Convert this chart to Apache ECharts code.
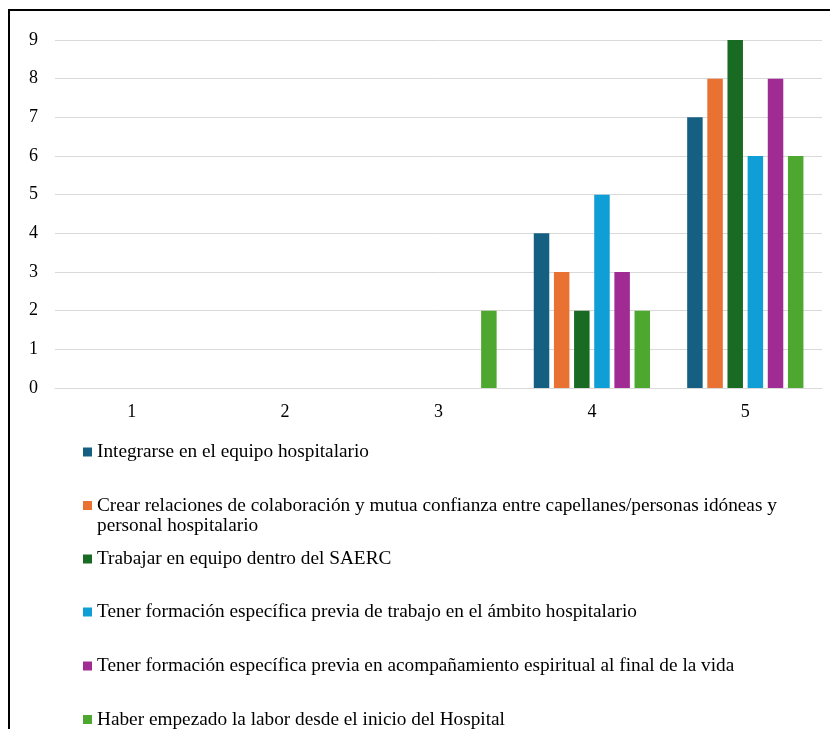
<!DOCTYPE html>
<html>
<head>
<meta charset="utf-8">
<script src="https://cdn.jsdelivr.net/npm/echarts@6/dist/echarts.min.js"></script>
<style>html,body{margin:0;padding:0;background:#fff;}#c{width:830px;height:729px;}</style>
</head>
<body>
<div id="c"></div>
<script>
const categories = ['1', '2', '3', '4', '5'];
const seriesNames = [
  'Integrarse en el equipo hospitalario',
  'Crear relaciones de colaboración y mutua confianza entre capellanes/personas idóneas y personal hospitalario',
  'Trabajar en equipo dentro del SAERC',
  'Tener formación específica previa de trabajo en el ámbito hospitalario',
  'Tener formación específica previa en acompañamiento espiritual al final de la vida',
  'Haber empezado la labor desde el inicio del Hospital'
];
const integrarse = [0, 0, 0, 4, 7];
const crearRelaciones = [0, 0, 0, 3, 8];
const trabajarEquipo = [0, 0, 0, 2, 9];
const formacionHospital = [0, 0, 0, 5, 6];
const formacionEspiritual = [0, 0, 0, 3, 8];
const haberEmpezado = [0, 0, 2, 2, 6];
const seriesValues = [integrarse, crearRelaciones, trabajarEquipo, formacionHospital, formacionEspiritual, haberEmpezado];
const yTicks = [0, 1, 2, 3, 4, 5, 6, 7, 8, 9];

const colors = ['#156082', '#E97132', '#196B24', '#0F9ED5', '#A02B93', '#4EA72E'];
const legendTops = [442, 475.5, 549, 602, 656, 709.5];
const font = 'Liberation Serif';

const chart = echarts.init(document.getElementById('c'));
chart.setOption({
  animation: false,
  color: colors,
  grid: { left: 55, right: 8, top: 40, bottom: 341, containLabel: false },
  xAxis: {
    type: 'category',
    data: categories,
    axisLine: { show: true, lineStyle: { color: '#d9d9d9', width: 1 } },
    axisTick: { show: false },
    axisLabel: { color: '#000', fontFamily: font, fontSize: 18, margin: 15 }
  },
  yAxis: {
    type: 'value',
    min: yTicks[0],
    max: yTicks[yTicks.length - 1],
    interval: 1,
    axisLine: { show: false },
    axisTick: { show: false },
    splitLine: { lineStyle: { color: '#d9d9d9', width: 1 } },
    axisLabel: { color: '#000', fontFamily: font, fontSize: 18, margin: 17 }
  },
  legend: seriesNames.map((n, i) => ({
    data: [n],
    orient: 'vertical',
    left: 83,
    top: legendTops[i],
    padding: 0,
    itemWidth: 9,
    itemHeight: 9,
    itemGap: 5,
    selectedMode: false,
    icon: 'rect',
    formatter: function (name) {
      if (name === seriesNames[1]) {
        return '\nCrear relaciones de colaboración y mutua confianza entre capellanes/personas idóneas y\npersonal hospitalario';
      }
      return name;
    },
    textStyle: { color: '#000', fontFamily: font, fontSize: 19.3, lineHeight: 20 }
  })),
  graphic: [{
    type: 'rect',
    shape: { x: 9, y: 10, width: 900, height: 800 },
    style: { fill: 'none', stroke: '#000', lineWidth: 2 },
    silent: true,
    z: 100
  }],
  series: seriesNames.map((n, i) => ({
    name: n,
    type: 'bar',
    data: seriesValues[i],
    barWidth: 15.5,
    barGap: '30%',
    itemStyle: { color: colors[i] }
  }))
});
</script>
</body>
</html>
